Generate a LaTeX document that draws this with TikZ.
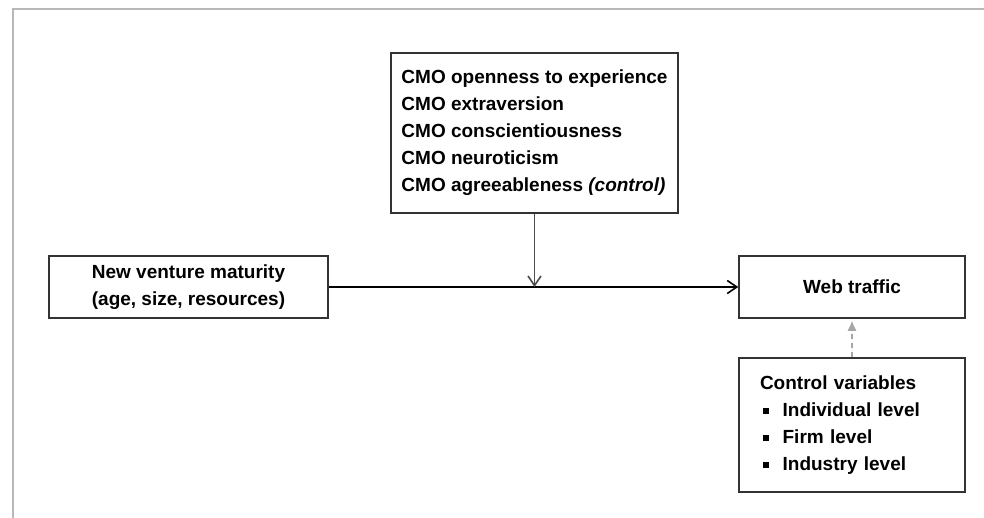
\documentclass[tikz,border=0pt]{standalone}
\usepackage{fontspec}
\setmainfont{Liberation Sans}
\usetikzlibrary{arrows.meta, positioning}
\newcommand{\sqbul}{\hspace*{1.5pt}\rule[1.3pt]{3pt}{3pt}\hspace{6.8pt}}
\tikzset{%
>={Straight Barb[length=4.8pt,width=6.5pt]},
  % Specifications for style of nodes:
            base/.style = {rectangle, draw=black!80, line width=0.75pt,
                            fill=white, inner sep=0pt,
                            font=\bfseries\fontsize{9.5}{13.5}\selectfont},
            frame/.style = {draw=black!28, line width=1pt}
}
\begin{document}
\begin{tikzpicture}[x=0.5pt, y=-0.5pt]
                        \useasboundingbox (0,0) rectangle (984,518);
                        \draw[frame] (13,518) -- (13,9) -- (984,9);
                        % boxes
                        \node[base, minimum width=143.5pt, minimum height=80pt, align=left] (cmo) at (534.5,133)
                            {CMO openness to experience\\CMO extraversion\\CMO conscientiousness\\CMO neuroticism\\CMO agreeableness \textit{(control)}};
                        \node[base, minimum width=139.5pt, minimum height=31pt, align=center] (nvm) at (188.5,287)
                            {New venture maturity\\(age, size, resources)};
                        \node[base, minimum width=113pt, minimum height=31pt] (web) at (852,287) {Web traffic};
                        \node[base, text width=92pt, inner xsep=10.5pt, minimum height=67pt, align=left] (ctrl) at (852,425)
                            {Control variables\\\sqbul Individual level\\\sqbul Firm level\\\sqbul Industry level};
                        % arrows
                        \coordinate (junc) at (cmo.south |- nvm.east);
                        \draw[->, line width=0.8pt] (nvm.east) -- (web.west);
                        \draw[->, draw=black!70, line width=0.8pt] (cmo.south) -- (junc);
                        \draw[-{Latex[length=5pt,width=4.5pt]}, draw=black!35, fill=black!35, line width=0.6pt,
                              dash pattern=on 2.5pt off 2pt] (ctrl.north) -- ([yshift=-1pt]web.south);
                    \end{tikzpicture}
\end{document}
